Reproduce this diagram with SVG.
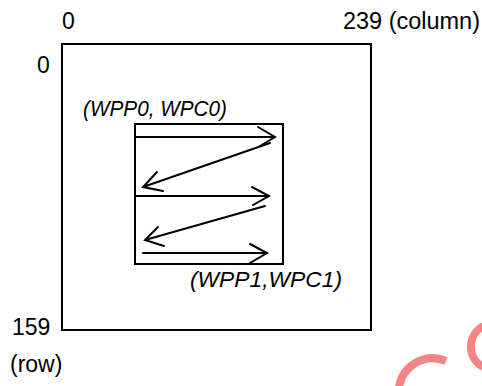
<svg xmlns="http://www.w3.org/2000/svg" width="482" height="386" viewBox="0 0 482 386">
<style>
.lbl{font-family:"Liberation Sans",Arial,sans-serif;font-size:23px;fill:#000}
.it{font-family:"Liberation Sans",Arial,sans-serif;font-size:22px;font-style:italic;fill:#000}
.box{fill:none;stroke:#000;stroke-width:2}
.ln{fill:none;stroke:#000;stroke-width:2;stroke-linecap:round;stroke-linejoin:miter}
.wm{fill:none;stroke:#f58585;stroke-width:8}
</style>
<rect width="482" height="386" fill="#fff"/>
<g id="frame">
<rect class="box" x="62" y="44" width="309" height="286"/>
</g>
<g id="window">
<rect class="box" x="135" y="124" width="148" height="140"/>
</g>
<g id="labels">
<text class="lbl" x="62" y="29">0</text>
<text class="lbl" x="343" y="29" textLength="137" lengthAdjust="spacingAndGlyphs">239 (column)</text>
<text class="lbl" x="37" y="73">0</text>
<text class="lbl" x="12" y="335">159</text>
<text class="lbl" x="10" y="372">(row)</text>
<text class="it" x="83" y="116" textLength="144" lengthAdjust="spacingAndGlyphs">(WPP0, WPC0)</text>
<text class="it" x="190" y="287" textLength="152" lengthAdjust="spacingAndGlyphs">(WPP1,WPC1)</text>
</g>
<g id="connectors">
<path class="ln" d="M135 137 H275 M258 127 L275 137 L260 146"/>
<path class="ln" d="M270 143 L143 187 M157 172 L143 187 L163 191"/>
<path class="ln" d="M135 196 H269 M252 187 L269 196 L253 205"/>
<path class="ln" d="M265 206 L145 240 M158 227 L145 240 L164 246"/>
<path class="ln" d="M143 253 H267 M250 244 L267 253 L250 263"/>
</g>
<g id="watermark">
<path class="wm" d="M399 388 A34 34 0 0 1 446 361"/>
<path class="wm" d="M484 326 A23 23 0 0 0 483 367"/>
</g>
</svg>
